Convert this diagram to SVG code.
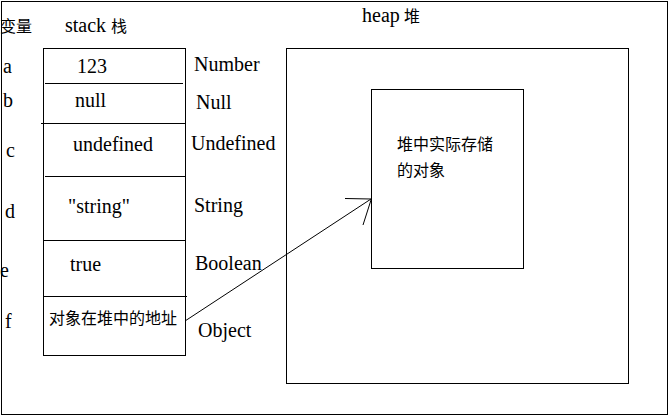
<svg xmlns="http://www.w3.org/2000/svg" width="669" height="416" viewBox="0 0 669 416">
<style>
.ln{stroke:#000;stroke-width:1;fill:none;shape-rendering:crispEdges}
.bx{stroke:#000;stroke-width:1;fill:#fff;shape-rendering:crispEdges}
.t{font-family:"Liberation Serif","DejaVu Serif",serif;font-size:20px;fill:#000}
.c{font-family:"Noto Sans CJK SC","Noto Sans",sans-serif;font-size:16px;fill:#000}
</style>
<rect x="0" y="0" width="669" height="416" fill="#fff"/>
<g id="frame"><rect class="ln" x="1.5" y="1.5" width="666" height="413"/></g>
<g id="labels">
<text class="c" x="0" y="32">变量</text>
<text class="t" x="65" y="32">stack <tspan class="c" x="111">栈</tspan></text>
<text class="t" x="3" y="73">a</text>
<text class="t" x="3" y="107">b</text>
<text class="t" x="6" y="157">c</text>
<text class="t" x="5" y="218">d</text>
<text class="t" x="0" y="277">e</text>
<text class="t" x="5" y="328">f</text>
<text class="t" x="362" y="22">heap <tspan class="c" x="404">堆</tspan></text>
</g>
<g id="stack">
<rect class="bx" x="43.5" y="48.5" width="142" height="307"/>
<line class="ln" x1="45" y1="83.5" x2="183" y2="83.5"/>
<line class="ln" x1="41" y1="123.5" x2="185" y2="123.5"/>
<line class="ln" x1="45" y1="176.5" x2="185" y2="176.5"/>
<line class="ln" x1="43" y1="240.5" x2="185" y2="240.5"/>
<line class="ln" x1="43" y1="296.5" x2="187" y2="296.5"/>
</g>
<g id="row-a"><text class="t" x="77" y="73">123</text><text class="t" x="194" y="71">Number</text></g>
<g id="row-b"><text class="t" x="75" y="107">null</text><text class="t" x="196" y="109">Null</text></g>
<g id="row-c"><text class="t" x="73" y="151">undefined</text><text class="t" x="191" y="150">Undefined</text></g>
<g id="row-d"><text class="t" x="68" y="213">"string"</text><text class="t" x="194" y="212">String</text></g>
<g id="row-e"><text class="t" x="70" y="271">true</text><text class="t" x="195" y="270">Boolean</text></g>
<g id="row-f"><text class="c" x="49" y="324">对象在堆中的地址</text><text class="t" x="198" y="337">Object</text></g>
<g id="heap"><rect class="bx" x="286.5" y="48.5" width="342" height="335"/></g>
<g id="object">
<rect class="bx" x="371.5" y="89.5" width="152" height="179"/>
<text class="c" x="397" y="150">堆中实际存储</text>
<text class="c" x="397" y="176">的对象</text>
</g>
<g id="connectors">
<path d="M185,321 L371,199" stroke="#000" stroke-width="1" fill="none"/>
<path d="M345,198.5 L371,199 M371,200 L363,225" stroke="#000" stroke-width="1" fill="none"/>
</g>
</svg>
